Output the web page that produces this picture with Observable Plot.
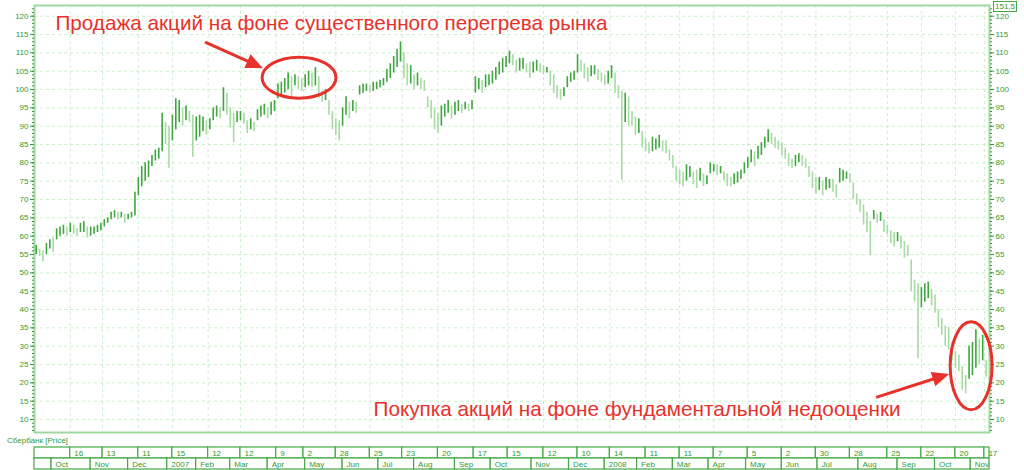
<!DOCTYPE html>
<html>
<head>
<meta charset="utf-8">
<script src="https://cdn.jsdelivr.net/npm/d3@7"></script>
<script src="https://cdn.jsdelivr.net/npm/@observablehq/plot@0.6"></script>
<style>
  body { margin: 0; background: #fff; }
  #wrap { position: relative; width: 1024px; height: 470px; background: #fff; font-family: "Liberation Sans", Arial, sans-serif; overflow: hidden; }
  #wrap svg { display: block; }
  .lbl { position: absolute; color: #2f9b2f; font-size: 8px; line-height: 9px; white-space: nowrap; }
</style>
</head>
<body>
<div id="wrap"></div>
<script>
// ---- data: daily price range of Sberbank, one bar per two trading days ----
const lows = [55,54.5,53,55,56.5,55.5,59,60,60.5,60,61,60.5,60,61,61,59.5,60,60.5,61,61.5,
62.5,63.5,64.5,65,64.5,65,63.5,64.5,65,65.5,71,73.5,75,76,79,80.5,81,83,85,78.5,
86,89,91,90,91.5,91,81.5,86,87,88.5,87.5,89,91.5,92.5,92,94,93,89.5,85.5,91,
91.5,90.5,88,89,88.5,91.5,92.5,93,92,93,94,97.5,98,99,100,98,101,100,99.5,100.5,
101,100.5,101,97.5,96.5,97,93,89,87.5,86,90,93,92,94,93.5,98.5,99,99.5,99,99.5,
100,100.5,101,102,103,104.5,106,107.5,103,101,101.5,100,101,100,99.5,95,92,89,88,90,
92.5,93.5,92,93,94,93.5,94.5,94,94.5,99,100,99,100.5,101,101.5,102.5,104,104.5,106,107,
106.5,104.5,105,105.5,104.5,103,104.5,105,104.5,104,104.5,101,99,97.5,97,98,100.5,102,102.5,104.5,
105,103,102,103.5,104,102.5,102,101,101.5,103,99,97.5,75.2,91,90,90,87.5,88,84,83,
82.5,83,83.5,84,83,82.5,80.5,78.5,75,74,73.5,75,76,74,73,75,73.5,74,77,77.5,
76.5,77,75,73.5,73.5,74,74.5,75.5,77,78.5,80,79,81,82,84,85.5,85,84,83.5,82,
81,79,78.5,79,80,79,78.5,76,73,71.5,72.5,71,72.5,73,72,70.5,74.5,75,75.5,74.5,
70,68.5,66.5,63,61,54.7,64.5,63.5,64,61,60.5,58,57,58.5,56.5,54,54.5,45,42,26.6,
40.5,42,43,41,39,35,33,30,29,26,24,23,18,17,21,22,24,25,26,21.5];
const highs = [57.5,56.5,56,58,59,59.5,62,62.5,63,62.5,63.5,63,62,63.5,64,62.5,62.5,62.5,63,63.5,
64.5,65,66.5,67,66.5,66.5,66,66,66.5,72,76,79,80,80.5,82,83.5,84,93.5,91,90,
93,97.5,97,95,95.5,94,93,92.5,93,92.5,91.5,92,95,95.5,95,100.5,99,95,93.5,94,
94,93.5,91.5,92,91,94.5,95.5,96,95,96.5,97,101.5,102,103,104.5,103.5,104,103.5,103,104,
105,104.5,106,103.5,99.5,100,97,94,92,91.5,95,98,96.5,97,96.5,101,101.5,101.5,101,102,
102,102.5,103,105.5,107,109,111,113,110,107,106.5,104,104.5,103,102.5,98,97,95,93.5,95.5,
96,97,95.5,96.5,97,96,96.5,96,97,103.5,103,102.5,104,104,105,106,107.5,108.5,109,110.5,
109.5,108,108.5,108.5,107,107.5,107.5,108,107,106.5,106,105,104,101,100,100.5,103.5,104.5,105,109.5,
108,107,106,106.5,106.5,105.5,104.5,104,105,106.5,104.5,101,99.5,99,98,94,92.5,92,88.5,86.5,
85.5,87,86.5,87.5,86,86,83.5,82,79,78,77.5,79.5,79,77.5,78,78.5,77,76.5,80,79.5,
79.5,79,77.5,77,76,77,77.5,78,80,81.5,83.5,83,84.5,85.5,87,89,88,87,86,85.5,
84,82.5,81,82,82.5,82,81,79,77.5,76,76,75,76,75.5,75.5,74,78.5,78,77.5,77,
74.5,71.5,70,68.5,66.5,64,67,66,66.5,64.5,63,61.5,61,61,60,58.5,57.5,53.5,48,47,
46,47,47.5,45.5,44,40,37.5,35.5,35,31,28.5,27.5,24.5,22,30,31,34.5,32,33,26];

// ---- axes / timeline ----
const xDomain = [0, 561];                 // trading days shown
const yTicks = [10,15,20,25,30,35,40,45,50,55,60,65,70,75,80,85,90,95,100,105,110,115,120];
const weekDays = [21,40,61,81,102,121,142,158,177,197,216,237,258,278,299,319,338,359,379,399,419,439,459,479,501,521,541,558];
const weekLabels = ["16","13","11","15","12","12","9","2","28","25","23","20","17","15","12","10","14","11","11","7","5","2","30","28","25","22","20","17"];
const monthDays = [10,33,55,78,95,115,137,159,181,202,223,247,268,292,314,335,354,375,396,418,439,460,484,507,529,550];
const monthLabels = ["Oct","Nov","Dec","2007","Feb","Mar","Apr","May","Jun","Jul","Aug","Sep","Oct","Nov","Dec","2008","Feb","Mar","Apr","May","Jun","Jul","Aug","Sep","Oct","Nov"];
const seriesName = "Сбербанк [Price]";
const lastValue = "151,5";

// ---- annotations (data space) ----
const noteText = ["Продажа акций на фоне существенного перегрева рынка", "Покупка акций на фоне фундаментальной недооценки"];
const noteDay = [12.3, 199.2];
const noteValue = [118.0, 12.8];
const zoneDay = [155.7, 550.5];
const zoneValue = [103.1, 24.5];
const zoneHalfDays = [21.7, 12.3];
const zoneHalfValue = [5.6, 12];
const arrowFromDay = [100.5, 494.7];
const arrowFromValue = [112.8, 15.9];
const arrowToDay = [134.5, 537.6];
const arrowToValue = [105.7, 22.3];

// ---- build ----
const DARK = "#3fa53f", LIGHT = "#a6dba2", TEXT = "#2f9b2f", GRID = "#cdeecd", FRAME = "#9fd89f", RED = "#e6322a";
const FONT = '"Liberation Sans", Arial, sans-serif';

const bars = lows.map((lo, i) => ({day: 2 * i + 1, low: lo, high: highs[i]}));
bars.forEach((b, i) => {
  const mid = (b.low + b.high) / 2;
  const prev = i ? (bars[i - 1].low + bars[i - 1].high) / 2 : mid;
  b.up = mid >= prev;
});
const notes = noteText.map((t, i) => ({text: t, day: noteDay[i], value: noteValue[i]}));
const minorTicks = d3.range(7, 123, 1);

const main = Plot.plot({
  width: 1024, height: 437,
  marginLeft: 34, marginRight: 35, marginTop: 5, marginBottom: 5,
  x: {domain: xDomain, axis: null},
  y: {domain: [6.455, 122.92], label: null},
  style: {fontFamily: FONT, background: "#fff", color: TEXT, overflow: "visible"},
  marks: [
    Plot.ruleY(yTicks, {stroke: GRID, strokeDasharray: "3,3"}),
    Plot.ruleX(weekDays, {stroke: GRID, strokeDasharray: "3,3"}),
    Plot.frame({stroke: FRAME, strokeWidth: 2}),
    Plot.axisY({anchor: "left", ticks: minorTicks, tickSize: 2, tickFormat: () => "", label: null}),
    Plot.axisY({anchor: "left", ticks: yTicks, tickSize: 4, tickPadding: 2, fontSize: 8, label: null}),
    Plot.axisY({anchor: "right", ticks: minorTicks, tickSize: 2, tickFormat: () => "", label: null}),
    Plot.axisY({anchor: "right", ticks: yTicks, tickSize: 4, tickPadding: 2, fontSize: 8, label: null}),
    Plot.ruleX(bars, {x: "day", y1: "low", y2: "high", stroke: d => d.up ? DARK : LIGHT, strokeWidth: 1.6}),
    Plot.text(notes, {x: "day", y: "value", text: "text", textAnchor: "start", fill: RED, fontSize: 20.7})
  ]
});

// annotation shapes, positioned through the plot's own scales
const sx = main.scale("x"), sy = main.scale("y");
const svg = d3.select(main);
const g = svg.append("g");
zoneDay.forEach((d, i) => {
  const cx = sx.apply(d), cy = sy.apply(zoneValue[i]);
  g.append("ellipse")
    .attr("cx", cx).attr("cy", cy)
    .attr("rx", Math.abs(sx.apply(d + zoneHalfDays[i]) - cx))
    .attr("ry", Math.abs(sy.apply(zoneValue[i] + zoneHalfValue[i]) - cy))
    .attr("fill", "none").attr("stroke", RED).attr("stroke-width", 3);
});
arrowFromDay.forEach((d, i) => {
  const x1 = sx.apply(d), y1 = sy.apply(arrowFromValue[i]);
  const x2 = sx.apply(arrowToDay[i]), y2 = sy.apply(arrowToValue[i]);
  const len = Math.hypot(x2 - x1, y2 - y1), ux = (x2 - x1) / len, uy = (y2 - y1) / len;
  const hl = 17, hw = 7.5;
  const bx = x2 - ux * hl, by = y2 - uy * hl;
  g.append("line").attr("x1", x1).attr("y1", y1).attr("x2", bx + ux * 2).attr("y2", by + uy * 2)
    .attr("stroke", RED).attr("stroke-width", 3);
  g.append("path")
    .attr("d", `M${x2},${y2}L${bx - uy * hw},${by + ux * hw}L${bx + uy * hw},${by - ux * hw}Z`)
    .attr("fill", RED);
});

// ---- timeline (two rows of cells) ----
const cells = [];
const wb = [xDomain[0], ...weekDays, xDomain[1]];
for (let i = 0; i < wb.length - 1; i++) cells.push({row: "w", x1: wb[i], x2: wb[i + 1], label: i ? weekLabels[i - 1] : ""});
const mb = [xDomain[0], ...monthDays, xDomain[1]];
for (let i = 0; i < mb.length - 1; i++) cells.push({row: "m", x1: mb[i], x2: mb[i + 1], label: i ? monthLabels[i - 1] : ""});

const timeline = Plot.plot({
  width: 1024, height: 33,
  marginLeft: 34, marginRight: 35, marginTop: 10, marginBottom: 1,
  x: {domain: xDomain, axis: null},
  y: {domain: ["w", "m"], axis: null, padding: 0},
  style: {fontFamily: FONT, background: "#fff", color: TEXT, overflow: "visible"},
  marks: [
    Plot.barX(cells, {x1: "x1", x2: "x2", y: "row", fill: "#fff", stroke: "#44a844", strokeWidth: 1.2, inset: 0}),
    Plot.text(cells, {x: "x1", y: "row", text: "label", textAnchor: "start", dx: 4, fontSize: 8, fill: TEXT})
  ]
});

const wrap = document.getElementById("wrap");
wrap.appendChild(main);
wrap.appendChild(timeline);

const name = document.createElement("div");
name.className = "lbl";
name.textContent = seriesName;
name.style.left = "7px"; name.style.top = "436px";
wrap.appendChild(name);

const box = document.createElement("div");
box.className = "lbl";
box.textContent = lastValue;
box.style.left = "993px"; box.style.top = "1px";
box.style.border = "1px solid #44a844"; box.style.padding = "0 1px"; box.style.background = "#fff";
wrap.appendChild(box);
</script>
</body>
</html>
